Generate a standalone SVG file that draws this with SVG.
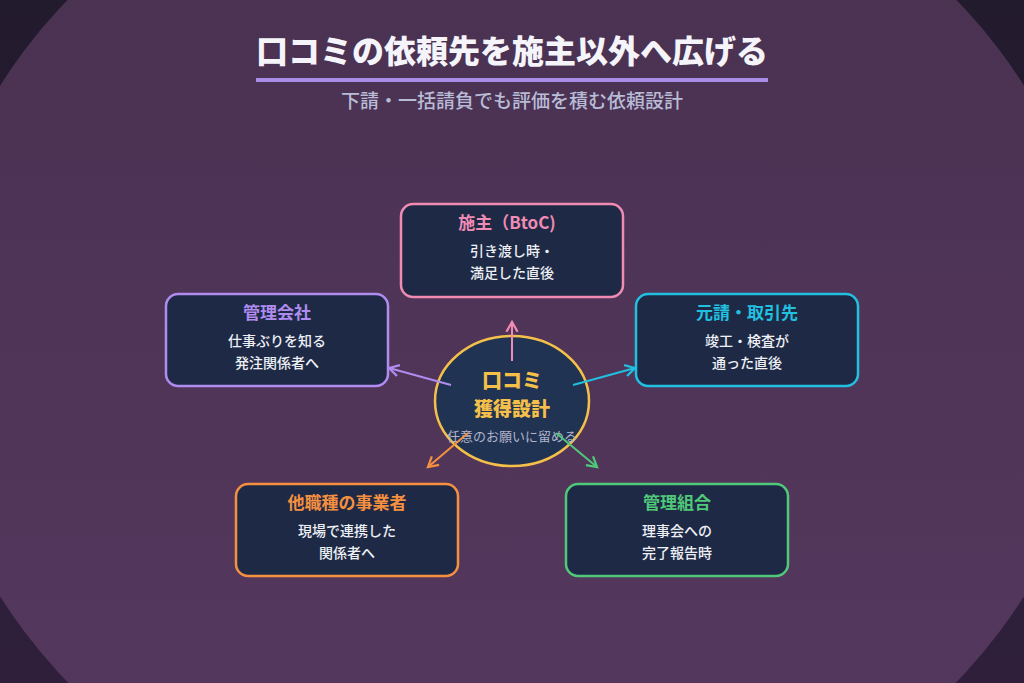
<svg xmlns="http://www.w3.org/2000/svg" width="1024" height="683" viewBox="0 0 1024 683">
<defs>
<linearGradient id="bgOuter" x1="0" y1="0" x2="0" y2="1"><stop offset="0" stop-color="#221a2d"/><stop offset="1" stop-color="#2f1f3b"/></linearGradient>
<linearGradient id="bgInner" x1="0" y1="0" x2="0" y2="1"><stop offset="0" stop-color="#483150"/><stop offset="1" stop-color="#56385f"/></linearGradient>
<marker id="mPink" viewBox="0 0 10 10" refX="8" refY="5" markerWidth="7" markerHeight="7" orient="auto"><path d="M1,1 L8,5 L1,9" fill="none" stroke="#f08cb4" stroke-width="1.6"/></marker>
<marker id="mPurple" viewBox="0 0 10 10" refX="8" refY="5" markerWidth="7" markerHeight="7" orient="auto"><path d="M1,1 L8,5 L1,9" fill="none" stroke="#b08cf0" stroke-width="1.6"/></marker>
<marker id="mCyan" viewBox="0 0 10 10" refX="8" refY="5" markerWidth="7" markerHeight="7" orient="auto"><path d="M1,1 L8,5 L1,9" fill="none" stroke="#22c0e0" stroke-width="1.6"/></marker>
<marker id="mOrange" viewBox="0 0 10 10" refX="8" refY="5" markerWidth="7" markerHeight="7" orient="auto"><path d="M1,1 L8,5 L1,9" fill="none" stroke="#f59040" stroke-width="1.6"/></marker>
<marker id="mGreen" viewBox="0 0 10 10" refX="8" refY="5" markerWidth="7" markerHeight="7" orient="auto"><path d="M1,1 L8,5 L1,9" fill="none" stroke="#50c87a" stroke-width="1.6"/></marker>
</defs>
<style>
text{font-family:"Noto Sans CJK JP","Noto Sans",sans-serif;text-anchor:middle}
.box{fill:#1e2a45;stroke-width:2.5}
.ttl{font-size:17px;font-weight:700}
.body{font-size:14px;font-weight:500;fill:#eef0f6}
.conn line{stroke-width:2}
</style>
<rect width="1024" height="683" fill="url(#bgOuter)"/>
<ellipse cx="512" cy="341" rx="587" ry="522" fill="url(#bgInner)"/>
<g id="title">
<text x="512" y="63" font-size="32" font-weight="900" fill="#f4f4fa">口コミの依頼先を施主以外へ広げる</text>
<rect x="256" y="78" width="512" height="4" fill="#a98de8"/>
<text x="512" y="108" font-size="19" font-weight="500" fill="#b8bcd6">下請・一括請負でも評価を積む依頼設計</text>
</g>
<g id="center">
<ellipse cx="512" cy="401" rx="77" ry="65" fill="#213352" stroke="#f5c04a" stroke-width="2.5"/>
<text x="512" y="388" font-size="20" font-weight="900" fill="#f5c04a">口コミ</text>
<text x="512" y="416" font-size="19" font-weight="900" fill="#f5c04a">獲得設計</text>
<text x="512" y="441" font-size="13" fill="#b0b4cc">任意のお願いに留める</text>
</g>
<g id="connectors" class="conn">
<line x1="512" y1="361" x2="512" y2="322" stroke="#f08cb4" marker-end="url(#mPink)"/>
<line x1="451" y1="385" x2="389" y2="368" stroke="#b08cf0" marker-end="url(#mPurple)"/>
<line x1="573" y1="385" x2="635" y2="368" stroke="#22c0e0" marker-end="url(#mCyan)"/>
<line x1="468" y1="433" x2="428" y2="467" stroke="#f59040" marker-end="url(#mOrange)"/>
<line x1="556" y1="433" x2="597" y2="467" stroke="#50c87a" marker-end="url(#mGreen)"/>
</g>
<g id="node-owner">
<rect class="box" x="401" y="204" width="222" height="93" rx="12" stroke="#f08cb4"/>
<text class="ttl" x="507" y="229" fill="#f08cb4">施主（BtoC)</text>
<text class="body" x="512" y="256">引き渡し時・</text>
<text class="body" x="512" y="278">満足した直後</text>
</g>
<g id="node-mgmt-company">
<rect class="box" x="166" y="294" width="222" height="92" rx="12" stroke="#b08cf0"/>
<text class="ttl" x="277" y="319" fill="#b08cf0">管理会社</text>
<text class="body" x="277" y="346">仕事ぶりを知る</text>
<text class="body" x="277" y="368">発注関係者へ</text>
</g>
<g id="node-prime">
<rect class="box" x="636" y="294" width="222" height="92" rx="12" stroke="#22c0e0"/>
<text class="ttl" x="747" y="319" fill="#22c0e0">元請・取引先</text>
<text class="body" x="747" y="346">竣工・検査が</text>
<text class="body" x="747" y="368">通った直後</text>
</g>
<g id="node-trades">
<rect class="box" x="236" y="484" width="222" height="92" rx="12" stroke="#f59040"/>
<text class="ttl" x="347" y="509" fill="#f59040">他職種の事業者</text>
<text class="body" x="347" y="536">現場で連携した</text>
<text class="body" x="347" y="558">関係者へ</text>
</g>
<g id="node-hoa">
<rect class="box" x="566" y="484" width="222" height="92" rx="12" stroke="#50c87a"/>
<text class="ttl" x="677" y="509" fill="#50c87a">管理組合</text>
<text class="body" x="677" y="536">理事会への</text>
<text class="body" x="677" y="558">完了報告時</text>
</g>
</svg>
